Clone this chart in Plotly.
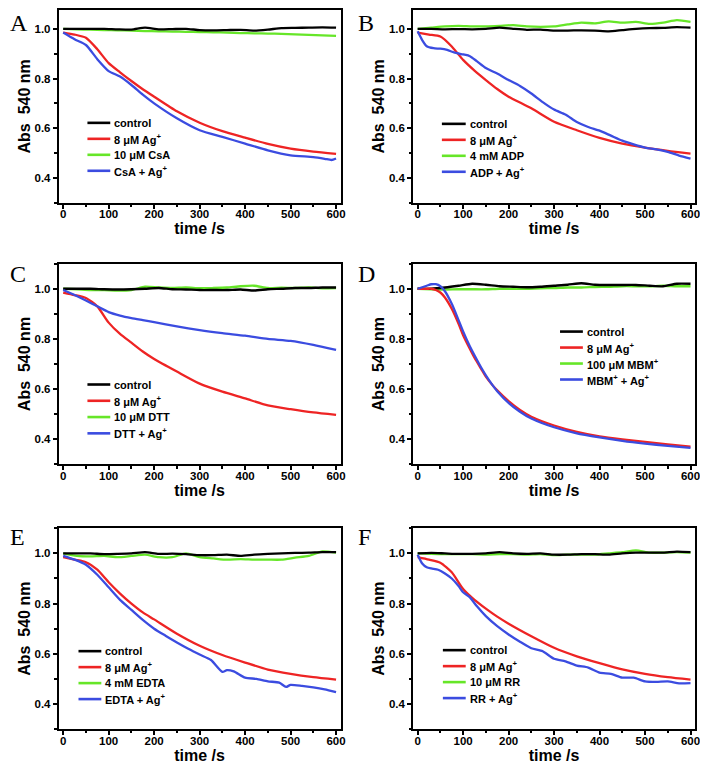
import plotly.graph_objects as go

# ---------------- data ----------------
T30 = [0, 30, 60, 90, 120, 150, 180, 210, 240, 270, 300, 330, 360, 390, 420, 450, 480, 510, 540, 570, 600]
T_SMOOTH = [0, 25, 50, 75, 100, 125, 150, 175, 200, 250, 300, 350, 400, 450, 500, 550, 600]

# Panel A
A_control = [1.0, 1.0, 1.0, 1.0, 0.998, 0.997, 1.005, 0.998, 0.999, 1.0, 0.995, 0.994, 0.995, 0.996, 0.993, 0.997, 1.003, 1.004, 1.005, 1.006, 1.005]
A_csa = [1.0, 0.998, 0.997, 0.995, 0.994, 0.993, 0.991, 0.99, 0.989, 0.988, 0.987, 0.986, 0.985, 0.983, 0.982, 0.981, 0.98, 0.978, 0.976, 0.974, 0.972]
A_ag = [0.985, 0.977, 0.964, 0.918, 0.862, 0.825, 0.79, 0.757, 0.727, 0.668, 0.622, 0.588, 0.562, 0.537, 0.518, 0.506, 0.497]
A_mix_t = [0, 25, 50, 75, 100, 125, 150, 175, 200, 250, 300, 350, 400, 450, 500, 550, 575, 590, 600]
A_mix = [0.985, 0.958, 0.935, 0.878, 0.83, 0.808, 0.774, 0.735, 0.70, 0.64, 0.592, 0.565, 0.538, 0.511, 0.491, 0.484, 0.477, 0.472, 0.478]

# Panel B
B_control = [1.0, 1.0, 0.998, 0.999, 0.998, 1.0, 1.005, 1.0, 0.996, 0.997, 0.993, 0.993, 0.994, 0.993, 0.99, 0.995, 1.0, 1.003, 1.004, 1.007, 1.005]
B_adp = [1.0, 1.005, 1.01, 1.012, 1.01, 1.01, 1.012, 1.015, 1.01, 1.008, 1.01, 1.018, 1.025, 1.022, 1.03, 1.025, 1.028, 1.02, 1.025, 1.035, 1.028]
B_ag = [0.985, 0.977, 0.969, 0.929, 0.875, 0.832, 0.794, 0.758, 0.727, 0.68, 0.626, 0.592, 0.561, 0.538, 0.522, 0.509, 0.498]
B_mix_t = [0, 10, 20, 35, 50, 65, 80, 100, 115, 130, 150, 175, 200, 225, 250, 275, 300, 325, 350, 375, 400, 425, 450, 475, 500, 525, 550, 575, 600]
B_mix = [0.99, 0.955, 0.93, 0.922, 0.92, 0.915, 0.905, 0.897, 0.89, 0.87, 0.842, 0.82, 0.794, 0.77, 0.74, 0.705, 0.675, 0.655, 0.625, 0.605, 0.59, 0.57, 0.55, 0.535, 0.522, 0.515, 0.505, 0.49, 0.478]

# Panel C
C_control = [1.0, 1.0, 1.0, 0.998, 0.997, 0.998, 1.0, 1.003, 0.998, 0.997, 0.995, 0.995, 0.995, 0.997, 0.993, 0.998, 1.0, 1.003, 1.003, 1.005, 1.005]
C_dtt = [1.0, 0.998, 0.995, 0.995, 0.993, 0.995, 1.008, 1.005, 1.003, 1.005, 1.002, 1.003, 1.005, 1.01, 1.012, 1.003, 1.004, 1.003, 1.005, 1.002, 1.003]
C_ag = [0.985, 0.975, 0.963, 0.93, 0.865, 0.82, 0.785, 0.75, 0.72, 0.67, 0.622, 0.59, 0.563, 0.535, 0.52, 0.507, 0.497]
C_mix = [0.995, 0.975, 0.953, 0.93, 0.907, 0.893, 0.883, 0.875, 0.867, 0.85, 0.835, 0.823, 0.813, 0.8, 0.792, 0.776, 0.756]

# Panel D
D_t = [0, 20, 30, 40, 50, 60, 75, 90, 100, 115, 125, 140, 150, 165, 175, 200, 225, 250, 300, 350, 400, 450, 500, 550, 600]
D_control = [1.0, 1.0, 1.005, 1.012, 1.02, 1.016, 1.01, 1.008, 1.006, 1.008, 1.012, 1.016, 1.022, 1.016, 1.015, 1.015, 1.015, 1.012, 1.01, 1.02, 1.02]
D_mbm = [1.0, 0.998, 0.997, 0.998, 0.998, 0.998, 1.0, 1.0, 1.0, 1.002, 1.003, 1.005, 1.005, 1.007, 1.008, 1.01, 1.01, 1.01, 1.012, 1.01, 1.01]
D_ag = [1.0, 1.0, 1.0, 0.995, 0.985, 0.965, 0.92, 0.86, 0.815, 0.76, 0.725, 0.68, 0.65, 0.615, 0.595, 0.552, 0.517, 0.49, 0.455, 0.43, 0.412, 0.4, 0.39, 0.38, 0.371]
D_mix = [1.0, 1.012, 1.018, 1.018, 1.01, 0.99, 0.94, 0.875, 0.83, 0.77, 0.735, 0.685, 0.655, 0.615, 0.592, 0.545, 0.51, 0.483, 0.448, 0.424, 0.408, 0.394, 0.383, 0.374, 0.366]

# Panel E
E_control = [1.0, 1.0, 1.0, 0.997, 0.998, 1.0, 1.005, 0.998, 0.999, 0.997, 0.993, 0.993, 0.995, 0.99, 0.995, 0.998, 1.0, 1.002, 1.003, 1.005, 1.005]
E_edta = [1.0, 0.99, 0.988, 0.99, 0.985, 0.99, 0.995, 0.985, 0.985, 1.0, 0.985, 0.98, 0.975, 0.977, 0.975, 0.975, 0.975, 0.983, 0.99, 1.008, 1.003]
E_ag = [0.985, 0.975, 0.965, 0.935, 0.885, 0.84, 0.8, 0.765, 0.737, 0.68, 0.632, 0.595, 0.565, 0.537, 0.52, 0.507, 0.497]
E_mix_t = [0, 25, 50, 75, 100, 125, 150, 175, 200, 225, 250, 275, 300, 325, 350, 360, 375, 400, 425, 450, 475, 490, 500, 525, 550, 575, 600]
E_mix = [0.99, 0.975, 0.955, 0.915, 0.865, 0.815, 0.775, 0.735, 0.70, 0.672, 0.645, 0.62, 0.597, 0.575, 0.528, 0.535, 0.53, 0.505, 0.50, 0.49, 0.485, 0.468, 0.476, 0.472, 0.466, 0.458, 0.447]

# Panel F
F_control = [1.0, 1.002, 1.0, 0.998, 0.998, 1.0, 1.005, 1.0, 0.998, 1.0, 0.995, 0.995, 0.997, 0.997, 0.995, 1.0, 1.003, 1.003, 1.003, 1.007, 1.005]
F_rr = [1.0, 0.998, 0.997, 0.997, 0.997, 0.995, 0.997, 0.997, 0.995, 0.997, 0.993, 0.995, 0.995, 0.995, 1.0, 1.005, 1.012, 1.003, 1.003, 1.005, 1.003]
F_ag = [0.985, 0.975, 0.963, 0.925, 0.858, 0.815, 0.78, 0.748, 0.72, 0.67, 0.624, 0.59, 0.563, 0.538, 0.52, 0.507, 0.497]
F_mix_t = [0, 10, 20, 30, 45, 60, 75, 90, 100, 115, 130, 150, 175, 200, 225, 250, 275, 300, 325, 350, 375, 400, 425, 450, 475, 500, 525, 550, 575, 600]
F_mix = [0.995, 0.96, 0.945, 0.94, 0.935, 0.92, 0.9, 0.87, 0.845, 0.825, 0.79, 0.75, 0.71, 0.677, 0.648, 0.622, 0.61, 0.58, 0.57, 0.553, 0.545, 0.525, 0.52, 0.505, 0.505, 0.49, 0.488, 0.49, 0.482, 0.483]

PANEL_LETTERS = ["A", "B", "C", "D", "E", "F"]
X_TICKS = [0, 100, 200, 300, 400, 500, 600]
Y_TICKS = [0.4, 0.6, 0.8, 1.0]
Y_RANGE = [0.3, 1.1]
X_RANGE = [-10, 610]

panels = [
    dict(labels=["control", "8 μM Ag<sup>+</sup>", "10 μM CsA", "CsA + Ag<sup>+</sup>"],
         series=[(T30, A_control), (T_SMOOTH, A_ag), (T30, A_csa), (A_mix_t, A_mix)]),
    dict(labels=["control", "8 μM Ag<sup>+</sup>", "4 mM ADP", "ADP + Ag<sup>+</sup>"],
         series=[(T30, B_control), (T_SMOOTH, B_ag), (T30, B_adp), (B_mix_t, B_mix)]),
    dict(labels=["control", "8 μM Ag<sup>+</sup>", "10 μM DTT", "DTT + Ag<sup>+</sup>"],
         series=[(T30, C_control), (T_SMOOTH, C_ag), (T30, C_dtt), (T_SMOOTH, C_mix)]),
    dict(labels=["control", "8 μM Ag<sup>+</sup>", "100 μM MBM<sup>+</sup>", "MBM<sup>+</sup> + Ag<sup>+</sup>"],
         series=[(T30, D_control), (D_t, D_ag), (T30, D_mbm), (D_t, D_mix)]),
    dict(labels=["control", "8 μM Ag<sup>+</sup>", "4 mM EDTA", "EDTA + Ag<sup>+</sup>"],
         series=[(T30, E_control), (T_SMOOTH, E_ag), (T30, E_edta), (E_mix_t, E_mix)]),
    dict(labels=["control", "8 μM Ag<sup>+</sup>", "10 μM RR", "RR + Ag<sup>+</sup>"],
         series=[(T30, F_control), (T_SMOOTH, F_ag), (T30, F_rr), (F_mix_t, F_mix)]),
]

COLORS = ["#000000", "#ee2424", "#66e628", "#3b4ce0"]
DRAW_ORDER = [2, 0, 1, 3]  # green under black

# page body has an 8px margin: figure is 8px smaller and positions shifted by 8
OFF = 8
W, H = 708 - OFF, 770 - OFF
col_px = [(59, 343), (416, 700)]
row_px = [(3, 202), (263, 464), (528, 729)]
# legend: line start x, text x, first row y, row step (reference pixels)
legend_px = [(88, 113, 122, 16), (445, 471, 123, 16), (88, 113, 384, 16.3),
             (564, 589, 331, 16), (79, 104, 651, 16), (446, 471, 650, 16)]
letter_px = [(8, 3), (358, 1), (8, 263), (358, 263), (8, 527), (358, 527)]
letter_shift = [1, 1, 5, 5, 5, 5]

BOLD = dict(family="Liberation Sans, Arial", color="black", weight="bold")

fig = go.Figure()
layout = dict(width=W, height=H, margin=dict(l=0, r=0, t=0, b=0),
              paper_bgcolor="white", plot_bgcolor="white", showlegend=False)
annotations = []
shapes = []


def px(xr):
    return min(max((xr - OFF) / W, 0.0), 1.0)


def py(yr):
    return min(max(1 - (yr - OFF) / H, 0.0), 1.0)


for i, p in enumerate(panels):
    r, c = divmod(i, 2)
    k = "" if i == 0 else str(i + 1)
    xa, ya = "x" + k, "y" + k
    for j in DRAW_ORDER:
        t, v = p["series"][j]
        fig.add_trace(go.Scatter(x=t, y=v, mode="lines", name=p["labels"][j],
                                 line=dict(color=COLORS[j], width=2.3, shape="spline", smoothing=0.6),
                                 xaxis=xa, yaxis=ya))
    x0, x1 = col_px[c]
    y0, y1 = row_px[r]
    # clip the top of the frame inside the page, keeping the same data scale
    y0_used = max(y0, OFF + 1)
    yr = [Y_RANGE[0], Y_RANGE[1] - (y0_used - y0) / (y1 - y0) * (Y_RANGE[1] - Y_RANGE[0])]
    common = dict(showline=True, linewidth=1.7, linecolor="black", mirror=True,
                  ticks="outside", ticklen=4, tickwidth=1.5, tickcolor="black",
                  showgrid=False, zeroline=False,
                  tickfont=dict(size=11.5, **BOLD),
                  title_font=dict(size=16, **BOLD))
    layout["xaxis" + k] = dict(domain=[px(x0), px(x1)], anchor=ya, range=X_RANGE,
                               tickvals=X_TICKS, ticklabelstandoff=-4,
                               minor=dict(ticks="outside", ticklen=2.5, dtick=50, tick0=0, tickcolor="black"),
                               title=dict(text="time /s", standoff=3), **common)
    layout["yaxis" + k] = dict(domain=[py(y1), py(y0_used)], anchor=xa, range=yr,
                               tickvals=Y_TICKS, tickformat=".1f",
                               minor=dict(ticks="outside", ticklen=2.5, dtick=0.1, tick0=0.3, tickcolor="black"),
                               title=dict(text="Abs  540 nm", standoff=0), **common)
    # legend drawn as key lines + labels
    lx, tx, ly, step = legend_px[i]
    for j in range(4):
        yy = py(ly + j * step)
        shapes.append(dict(type="line", xref="paper", yref="paper",
                           x0=px(lx), x1=px(tx - 2), y0=yy, y1=yy,
                           line=dict(color=COLORS[j], width=2.6)))
        annotations.append(dict(text=p["labels"][j], xref="paper", yref="paper",
                                x=px(tx), y=yy, xanchor="left", yanchor="middle",
                                showarrow=False, font=dict(size=11, **BOLD)))
    ax_, ay_ = letter_px[i]
    annotations.append(dict(text=PANEL_LETTERS[i], xref="paper", yref="paper",
                            x=px(ax_), y=py(ay_), xanchor="left", yanchor="top",
                            yshift=letter_shift[i], showarrow=False,
                            font=dict(family="Liberation Serif, Times New Roman", size=24, color="black")))

layout["annotations"] = annotations
layout["shapes"] = shapes
fig.update_layout(**layout)
fig.write_html("out.html")
